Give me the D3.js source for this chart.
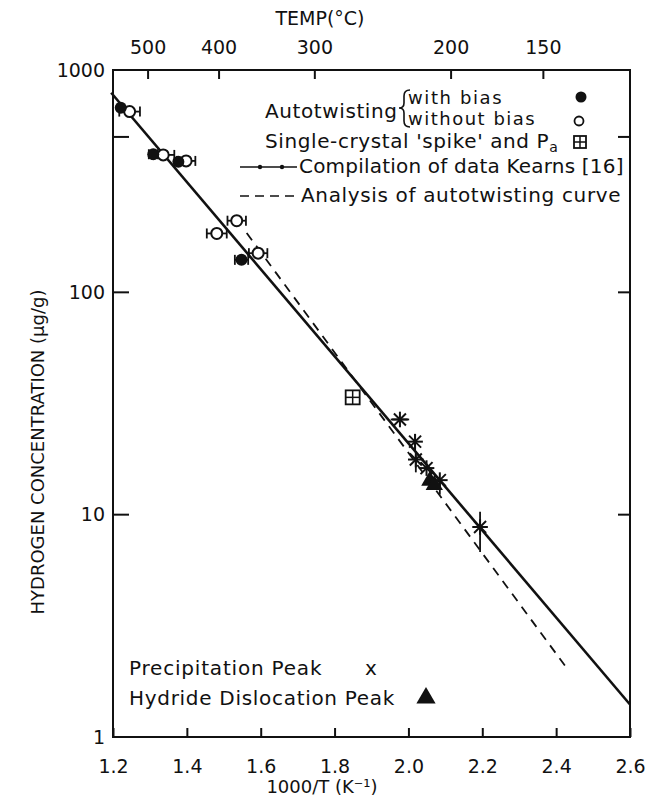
<!DOCTYPE html>
<html>
<head>
<meta charset="utf-8">
<script src="https://cdn.jsdelivr.net/npm/d3@7"></script>
<style>
  body { margin: 0; background: #fff; }
  svg { display: block; }
  text { font-family: "DejaVu Sans", sans-serif; fill: #111; }
</style>
</head>
<body>
<div id="chart"></div>
<script>
// tick values
const xTicks = [1.2, 1.4, 1.6, 1.8, 2.0, 2.2, 2.4, 2.6];
const yTicks = [1, 10, 100, 1000];
const yInnerTicks = [10, 100, 500];
const tempTicks = [500, 400, 300, 200, 150];

// autotwisting points (1000/T, ug/g, x error)
const withBias = [
  [1.221, 677, 0.0], [1.309, 418, 0.012], [1.377, 387, 0.0], [1.548, 140, 0.018]
];
const withoutBias = [
  [1.245, 650, 0.028], [1.336, 415, 0.03], [1.398, 390, 0.025],
  [1.535, 210, 0.025], [1.481, 184, 0.027], [1.593, 150, 0.025]
];
const spikePoints = [[1.849, 33.7]];
// precipitation peak (x, y, x error, y low, y high)
const precipPeak = [
  [1.977, 26.8, 0.025, 26.8, 26.8], [2.018, 21.3, 0.0, 19.5, 23],
  [2.020, 17.7, 0.0, 15.5, 18.5], [2.049, 16.2, 0.0, 16.2, 16.2],
  [2.085, 14.3, 0.0, 12.3, 14.3], [2.194, 8.8, 0.0, 6.8, 10.3]
];
const hydridePeak = [[2.058, 14.2], [2.070, 13.6]];
// lines
const kearnsLine = [[1.195, 790], [2.6, 1.4]];
const autotwistFit = [[1.562, 185], [2.427, 2.06]];

const W = 662, H = 800;
const m = {left: 113, right: 32, top: 70, bottom: 63};

const svg = d3.select("#chart").append("svg")
    .attr("width", W).attr("height", H);

const x = d3.scaleLinear().domain([1.2, 2.6]).range([m.left, W - m.right]);
const y = d3.scaleLog().domain([1, 1000]).range([H - m.bottom, m.top]);

const plotW = W - m.left - m.right, plotH = H - m.top - m.bottom;

// frame
svg.append("rect")
    .attr("x", m.left).attr("y", m.top)
    .attr("width", plotW).attr("height", plotH)
    .attr("fill", "none").attr("stroke", "#111").attr("stroke-width", 2);

// bottom axis, ticks inward
const xAxis = d3.axisBottom(x).tickValues(xTicks)
    .tickFormat(d3.format(".1f")).tickSizeInner(-9).tickSizeOuter(0).tickPadding(23);
svg.append("g").attr("transform", `translate(0,${H - m.bottom})`).call(xAxis)
    .call(g => g.select(".domain").remove())
    .call(g => g.selectAll("line").attr("stroke", "#111").attr("stroke-width", 2))
    .call(g => g.selectAll("text").attr("font-size", 19).attr("fill", "#111"));

// top temperature axis
const topAxis = d3.axisTop(x)
    .tickValues(tempTicks.map(t => 1000 / (t + 273)))
    .tickFormat((d, i) => tempTicks[i]).tickSizeInner(-9).tickSizeOuter(0).tickPadding(16);
svg.append("g").attr("transform", `translate(0,${m.top})`).call(topAxis)
    .call(g => g.select(".domain").remove())
    .call(g => g.selectAll("line").attr("stroke", "#111").attr("stroke-width", 2))
    .call(g => g.selectAll("text").attr("font-size", 19).attr("fill", "#111"));

// left axis labels
const yAxis = d3.axisLeft(y).tickValues(yTicks).tickFormat(d3.format("d"))
    .tickSizeInner(0).tickSizeOuter(0).tickPadding(8);
svg.append("g").attr("transform", `translate(${m.left},0)`).call(yAxis)
    .call(g => g.select(".domain").remove())
    .call(g => g.selectAll("text").attr("font-size", 19).attr("fill", "#111"));

// inward y ticks both sides
svg.append("g").selectAll("line").data(yInnerTicks).join("line")
    .attr("x1", m.left).attr("x2", m.left + 16)
    .attr("y1", d => y(d)).attr("y2", d => y(d))
    .attr("stroke", "#111").attr("stroke-width", 2);
svg.append("g").selectAll("line").data(yInnerTicks).join("line")
    .attr("x1", W - m.right).attr("x2", W - m.right - 12)
    .attr("y1", d => y(d)).attr("y2", d => y(d))
    .attr("stroke", "#111").attr("stroke-width", 2);

// axis titles
svg.append("text").attr("x", 320).attr("y", 25).attr("text-anchor", "middle")
    .attr("font-size", 19).text("TEMP(°C)");
svg.append("text").attr("x", 322).attr("y", 793).attr("text-anchor", "middle")
    .attr("font-size", 18).text("1000/T (K⁻¹)");
svg.append("text")
    .attr("transform", "translate(44,452) rotate(-90)")
    .attr("text-anchor", "middle").attr("font-size", 18)
    .text("HYDROGEN CONCENTRATION (μg/g)");

const plot = svg.append("g");
const line = d3.line().x(d => x(d[0])).y(d => y(d[1]));

plot.append("path").datum(kearnsLine).attr("d", line)
    .attr("fill", "none").attr("stroke", "#111").attr("stroke-width", 2.6);
plot.append("path").datum(autotwistFit).attr("d", line)
    .attr("fill", "none").attr("stroke", "#111").attr("stroke-width", 1.8)
    .attr("stroke-dasharray", "9,7");

// horizontal error bars
function hErr(g, data, cap) {
  g.selectAll(null).data(data.filter(d => d[2] > 0)).join("g").each(function(d) {
    const s = d3.select(this);
    const x0 = x(d[0] - d[2]), x1 = x(d[0] + d[2]), yy = y(d[1]);
    s.append("line").attr("x1", x0).attr("x2", x1).attr("y1", yy).attr("y2", yy);
    s.append("line").attr("x1", x0).attr("x2", x0).attr("y1", yy - cap).attr("y2", yy + cap);
    s.append("line").attr("x1", x1).attr("x2", x1).attr("y1", yy - cap).attr("y2", yy + cap);
  }).attr("stroke", "#111").attr("stroke-width", 1.8);
}
hErr(plot, withoutBias, 5);
hErr(plot, withBias, 5);

plot.selectAll(null).data(withoutBias).join("circle")
    .attr("cx", d => x(d[0])).attr("cy", d => y(d[1])).attr("r", 5.5)
    .attr("fill", "#fff").attr("stroke", "#111").attr("stroke-width", 2);
plot.selectAll(null).data(withBias).join("circle")
    .attr("cx", d => x(d[0])).attr("cy", d => y(d[1])).attr("r", 6)
    .attr("fill", "#111");

// single crystal spike square
function boxCross(g, cx, cy, s) {
  g.append("rect").attr("x", cx - s).attr("y", cy - s).attr("width", 2 * s).attr("height", 2 * s)
    .attr("fill", "none").attr("stroke", "#111").attr("stroke-width", 1.8);
  g.append("line").attr("x1", cx - s).attr("x2", cx + s).attr("y1", cy).attr("y2", cy)
    .attr("stroke", "#111").attr("stroke-width", 1.5);
  g.append("line").attr("x1", cx).attr("x2", cx).attr("y1", cy - s).attr("y2", cy + s)
    .attr("stroke", "#111").attr("stroke-width", 1.5);
}
spikePoints.forEach(d => boxCross(plot, x(d[0]), y(d[1]), 7));

// precipitation peak asterisks
function asterisk(g, cx, cy, r) {
  const a = g.append("g").attr("stroke", "#111").attr("stroke-width", 2);
  a.append("line").attr("x1", cx - r).attr("x2", cx + r).attr("y1", cy - r).attr("y2", cy + r);
  a.append("line").attr("x1", cx - r).attr("x2", cx + r).attr("y1", cy + r).attr("y2", cy - r);
  a.append("line").attr("x1", cx).attr("x2", cx).attr("y1", cy - r * 1.3).attr("y2", cy + r * 1.3);
  a.append("line").attr("x1", cx - r * 1.3).attr("x2", cx + r * 1.3).attr("y1", cy).attr("y2", cy);
}
precipPeak.forEach(d => {
  const g = plot.append("g").attr("stroke", "#111").attr("stroke-width", 1.8);
  if (d[2] > 0) g.append("line").attr("x1", x(d[0] - d[2])).attr("x2", x(d[0] + d[2]))
      .attr("y1", y(d[1])).attr("y2", y(d[1]));
  if (d[3] !== d[4]) g.append("line").attr("x1", x(d[0])).attr("x2", x(d[0]))
      .attr("y1", y(d[3])).attr("y2", y(d[4]));
  asterisk(plot, x(d[0]), y(d[1]), 6);
});

// hydride dislocation peak triangles
const tri = d3.symbol().type(d3.symbolTriangle).size(130);
plot.selectAll(null).data(hydridePeak).join("path")
    .attr("transform", d => `translate(${x(d[0])},${y(d[1])})`)
    .attr("d", tri).attr("fill", "#111");

// legend top right
const lg = svg.append("g");
function label(g, tx, ty, size, str, ls) {
  return g.append("text").attr("x", tx).attr("y", ty).attr("font-size", size)
      .attr("letter-spacing", ls || 0).text(str);
}
label(lg, 265, 118, 20, "Autotwisting", 0.6);
lg.append("path")
    .attr("d", "M410,90 Q404,90 404,96 L404,103 Q404,108 399,108 Q404,108 404,113 L404,121 Q404,127 410,127")
    .attr("fill", "none").attr("stroke", "#111").attr("stroke-width", 1.6);
label(lg, 408, 104, 18, "with bias", 1.6);
label(lg, 408, 125, 18, "without bias", 1.5);
lg.append("circle").attr("cx", 581).attr("cy", 97).attr("r", 5.5).attr("fill", "#111");
lg.append("circle").attr("cx", 579).attr("cy", 121).attr("r", 4.5)
    .attr("fill", "#fff").attr("stroke", "#111").attr("stroke-width", 1.8);
const sc = label(lg, 265, 148, 20, "Single-crystal 'spike' and P", 0.6);
sc.append("tspan").attr("font-size", 14).attr("dy", 4).attr("letter-spacing", 0).text("a");
boxCross(lg, 580, 142, 6);
lg.append("line").attr("x1", 240).attr("x2", 297).attr("y1", 167).attr("y2", 167)
    .attr("stroke", "#111").attr("stroke-width", 1.6);
lg.selectAll(null).data([260, 282]).join("circle")
    .attr("cx", d => d).attr("cy", 167).attr("r", 2.2).attr("fill", "#111");
label(lg, 299, 173, 20, "Compilation of data Kearns [16]", 0.2);
lg.append("line").attr("x1", 240).attr("x2", 297).attr("y1", 196).attr("y2", 196)
    .attr("stroke", "#111").attr("stroke-width", 1.6).attr("stroke-dasharray", "9,6");
label(lg, 301, 202, 20, "Analysis of autotwisting curve", 0.65);

// legend bottom left
label(svg, 129, 675, 20, "Precipitation Peak", 0.8);
label(svg, 365, 675, 20, "x", 0);
label(svg, 129, 705, 20, "Hydride Dislocation Peak", 0.7);
svg.append("path").attr("transform", "translate(426,698)")
    .attr("d", d3.symbol().type(d3.symbolTriangle).size(160)).attr("fill", "#111");
</script>
</body>
</html>
